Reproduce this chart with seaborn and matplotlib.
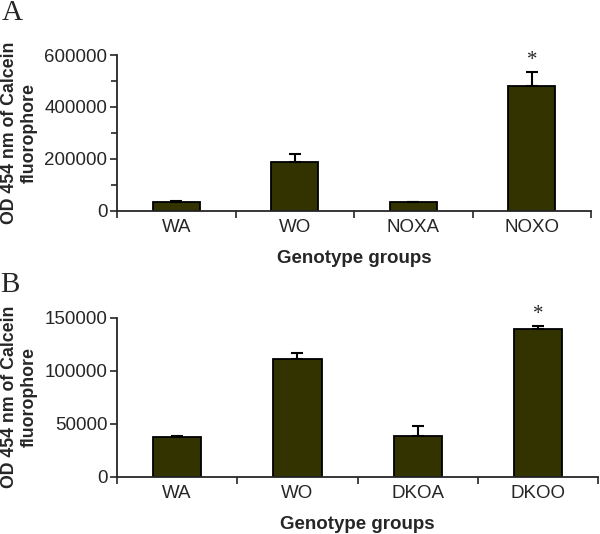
import numpy as np
import matplotlib
matplotlib.use('Agg')
import matplotlib.pyplot as plt
import seaborn as sns
from matplotlib.ticker import MultipleLocator

sns.set_style('ticks')
plt.rcParams['font.family'] = ['Liberation Sans', 'DejaVu Sans']

# ---------- data ----------
groups_a = ['WA', 'WO', 'NOXA', 'NOXO']
means_a = [33000, 188000, 33000, 482000]
errs_a = [4000, 30000, 0, 54000]
star_a = [False, False, False, True]

groups_b = ['WA', 'WO', 'DKOA', 'DKOO']
means_b = [37300, 110700, 38700, 139600]
errs_b = [1400, 6300, 9400, 2400]
star_b = [False, False, False, True]

bar_color = '#333300'
ylabel = 'OD 454 nm of Calcein\nfluorophore'
xlabel = 'Genotype groups'

fig = plt.figure(figsize=(6.0, 5.34), dpi=100)
ax_a = fig.add_axes([0.195, 0.605, 0.79, 0.292])
ax_b = fig.add_axes([0.195, 0.107, 0.802, 0.298])


def draw_panel(ax, groups, means, errs, stars, ymax, major, minor, letter, ly):
    sns.barplot(x=groups, y=means, color=bar_color, edgecolor='black',
                linewidth=1.3, width=0.4, saturation=1, ax=ax)
    x = np.arange(len(groups))
    ax.errorbar(x, means, yerr=[np.zeros(len(errs)), errs], fmt='none',
                ecolor='black', elinewidth=1.5, capsize=4.5, capthick=1.5)
    for xi, m, e, s in zip(x, means, errs, stars):
        if s:
            ax.text(xi, m + e + ymax * 0.012, '*', ha='center', va='bottom',
                    fontsize=15, family='Liberation Serif')
    ax.set_xlim(-0.5, len(groups) - 0.5)
    ax.set_ylim(0, ymax)
    ax.yaxis.set_major_locator(MultipleLocator(major))
    if minor:
        ax.yaxis.set_minor_locator(MultipleLocator(minor))
        ax.tick_params(axis='y', which='minor', length=4, width=1.2)
    # x ticks at category boundaries
    ax.set_xticks(np.arange(len(groups) + 1) - 0.5, minor=False)
    ax.set_xticklabels([])
    ax.set_xticks(x, minor=True)
    ax.set_xticklabels(groups, minor=True, fontsize=13.5)
    ax.tick_params(axis='x', which='minor', length=0, pad=6)
    ax.tick_params(axis='x', which='major', length=5, width=1.2)
    ax.tick_params(axis='y', which='major', length=5, width=1.2,
                   labelsize=13.5, pad=2)
    ax.set_xlabel(xlabel, fontsize=13.5, fontweight='bold', labelpad=10)
    ax.set_ylabel(ylabel, fontsize=12.8, fontweight='bold', labelpad=5)
    for side in ['top', 'right']:
        ax.spines[side].set_visible(False)
    for side in ['left', 'bottom']:
        ax.spines[side].set_linewidth(1.3)
    ax.text(-0.243, ly, letter, transform=ax.transAxes, fontsize=21,
            family='Liberation Serif', ha='left', va='top')


draw_panel(ax_a, groups_a, means_a, errs_a, star_a, 600000, 200000, 100000, 'A', 1.35)
draw_panel(ax_b, groups_b, means_b, errs_b, star_b, 150000, 50000, None, 'B', 1.29)

fig.savefig('out.png', dpi=100)
